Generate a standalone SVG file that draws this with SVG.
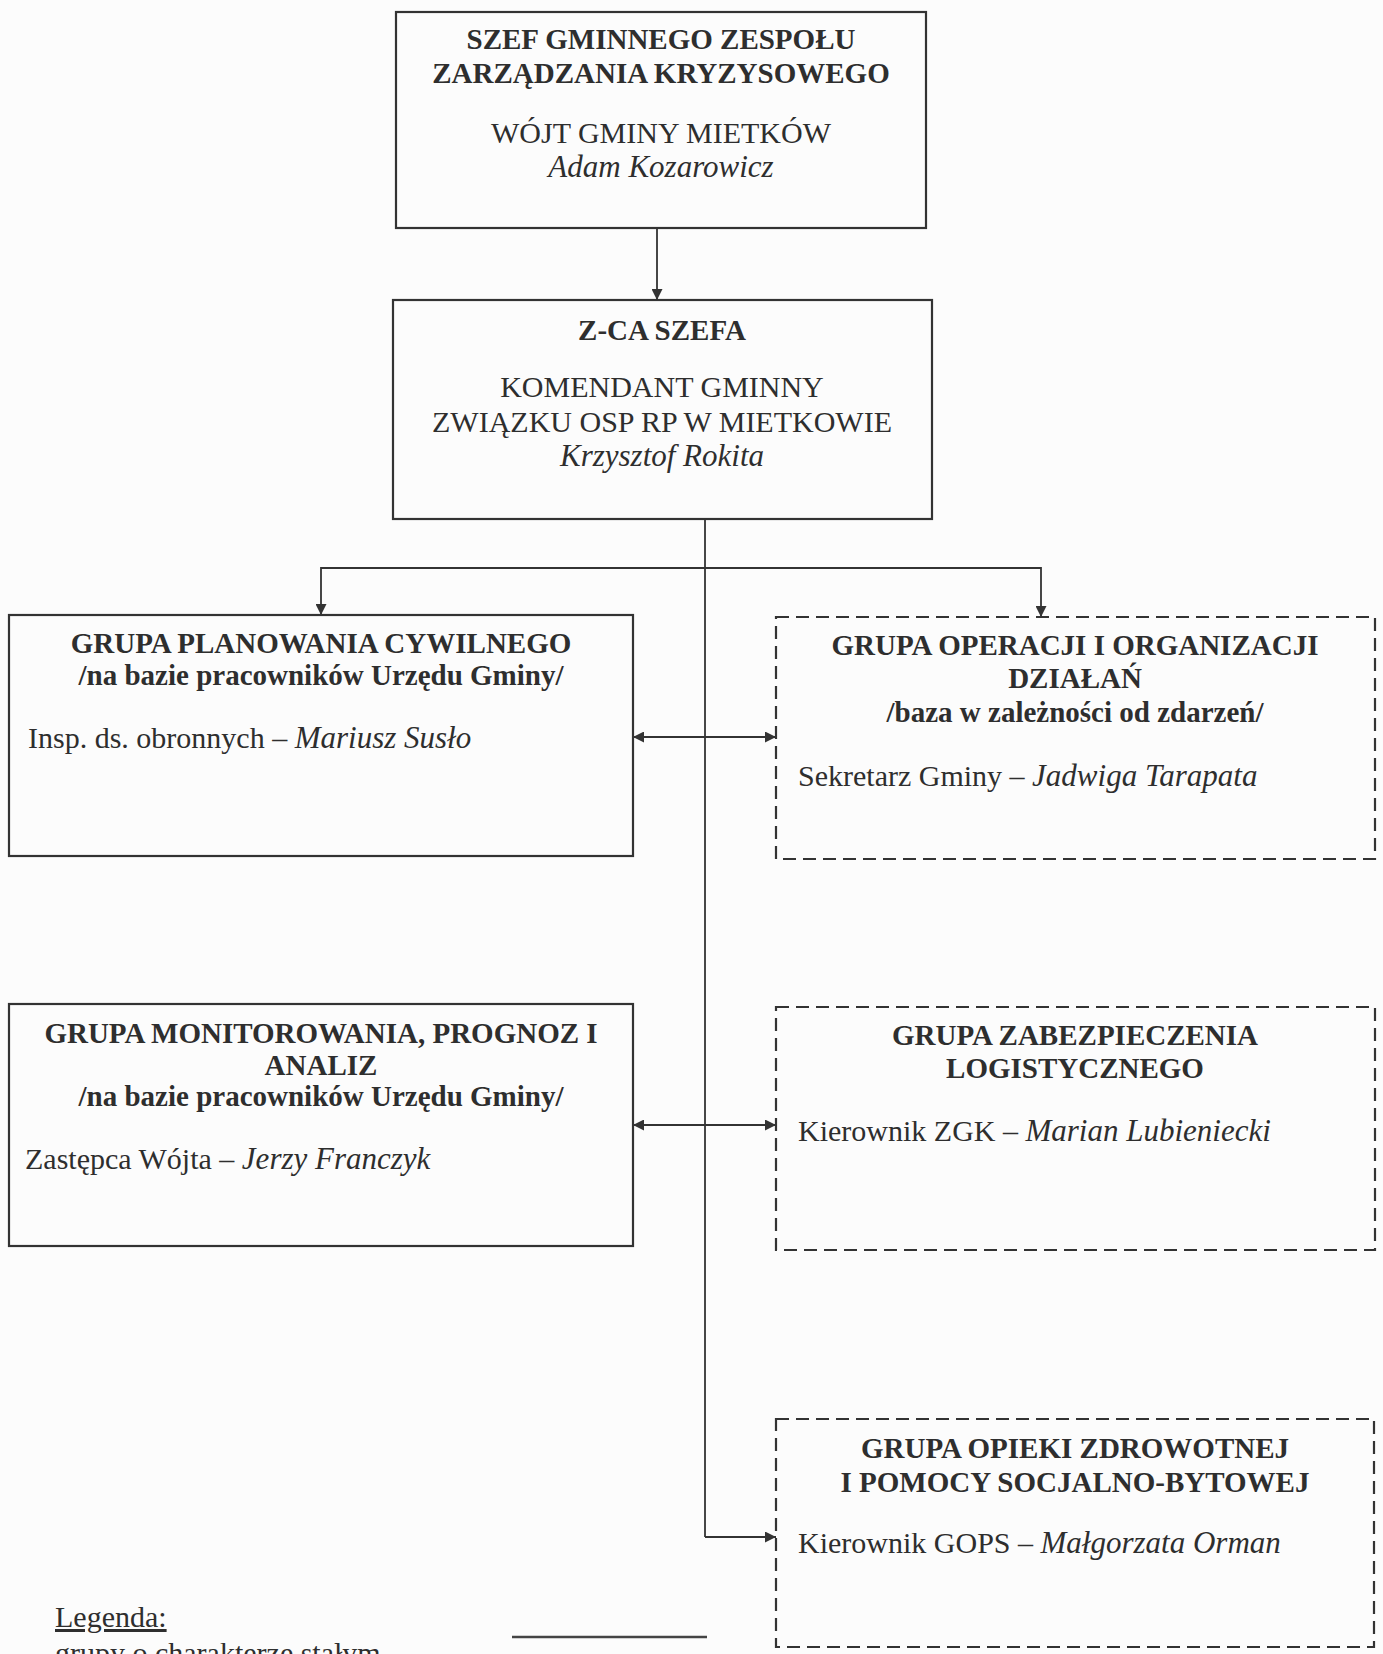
<svg xmlns="http://www.w3.org/2000/svg" width="1383" height="1654" viewBox="0 0 1383 1654">
<style>
text{font-family:"Liberation Serif","Times New Roman",serif;font-size:30px;fill:#2e2e2e}
.b{font-weight:bold;font-size:29px}
.c{text-anchor:middle}
.i{font-style:italic;font-size:31px}
.box{fill:none;stroke:#333;stroke-width:2.2}
.dash{fill:none;stroke:#333;stroke-width:2.2;stroke-dasharray:13 7}
.con{fill:none;stroke:#333;stroke-width:1.8}
</style>
<defs>
<marker id="a" viewBox="0 0 10 10" refX="10" refY="5" markerWidth="13" markerHeight="11" markerUnits="userSpaceOnUse" orient="auto-start-reverse">
<path d="M0,0 L10,5 L0,10 Z" fill="#333"/>
</marker>
</defs>
<rect width="1383" height="1654" fill="#fcfcfc"/>

<g id="connectors">
<line class="con" x1="657" y1="228" x2="657" y2="300" marker-end="url(#a)"/>
<line class="con" x1="705" y1="519" x2="705" y2="1537"/>
<line class="con" x1="705" y1="1537" x2="776" y2="1537" marker-end="url(#a)"/>
<polyline class="con" points="321,615 321,568 1041,568 1041,617" marker-start="url(#a)" marker-end="url(#a)"/>
<line class="con" x1="633" y1="737" x2="776" y2="737" marker-start="url(#a)" marker-end="url(#a)"/>
<line class="con" x1="633" y1="1125" x2="776" y2="1125" marker-start="url(#a)" marker-end="url(#a)"/>
</g>

<g id="szef">
<rect class="box" x="396" y="12" width="530" height="216"/>
<text class="b c" x="661" y="49">SZEF GMINNEGO ZESPOŁU</text>
<text class="b c" x="661" y="83">ZARZĄDZANIA KRYZYSOWEGO</text>
<text class="c" x="661" y="143">WÓJT GMINY MIETKÓW</text>
<text class="i c" x="661" y="177">Adam Kozarowicz</text>
</g>

<g id="zastepca">
<rect class="box" x="393" y="300" width="539" height="219"/>
<text class="b c" x="662" y="340">Z-CA SZEFA</text>
<text class="c" x="662" y="397">KOMENDANT GMINNY</text>
<text class="c" x="662" y="432">ZWIĄZKU OSP RP W MIETKOWIE</text>
<text class="i c" x="662" y="466">Krzysztof Rokita</text>
</g>

<g id="planowanie">
<rect class="box" x="9" y="615" width="624" height="241"/>
<text class="b c" x="321" y="653">GRUPA PLANOWANIA CYWILNEGO</text>
<text class="b c" x="321" y="685">/na bazie pracowników Urzędu Gminy/</text>
<text x="28" y="748">Insp. ds. obronnych – <tspan class="i">Mariusz Susło</tspan></text>
</g>

<g id="operacje">
<rect class="dash" x="776" y="617" width="599" height="242"/>
<text class="b c" x="1075" y="655">GRUPA OPERACJI I ORGANIZACJI</text>
<text class="b c" x="1075" y="688">DZIAŁAŃ</text>
<text class="b c" x="1075" y="722">/baza w zależności od zdarzeń/</text>
<text x="798" y="786">Sekretarz Gminy – <tspan class="i">Jadwiga Tarapata</tspan></text>
</g>

<g id="monitorowanie">
<rect class="box" x="9" y="1004" width="624" height="242"/>
<text class="b c" x="321" y="1043">GRUPA MONITOROWANIA, PROGNOZ I</text>
<text class="b c" x="321" y="1075">ANALIZ</text>
<text class="b c" x="321" y="1106">/na bazie pracowników Urzędu Gminy/</text>
<text x="25" y="1169">Zastępca Wójta – <tspan class="i">Jerzy Franczyk</tspan></text>
</g>

<g id="logistyka">
<rect class="dash" x="776" y="1007" width="599" height="243"/>
<text class="b c" x="1075" y="1045">GRUPA ZABEZPIECZENIA</text>
<text class="b c" x="1075" y="1078">LOGISTYCZNEGO</text>
<text x="798" y="1141">Kierownik ZGK – <tspan class="i">Marian Lubieniecki</tspan></text>
</g>

<g id="opieka">
<rect class="dash" x="776" y="1419" width="598" height="228"/>
<text class="b c" x="1075" y="1458">GRUPA OPIEKI ZDROWOTNEJ</text>
<text class="b c" x="1075" y="1492">I POMOCY SOCJALNO-BYTOWEJ</text>
<text x="798" y="1553">Kierownik GOPS – <tspan class="i">Małgorzata Orman</tspan></text>
</g>

<g id="legenda">
<text x="55" y="1627" text-decoration="underline">Legenda:</text>
<text x="55" y="1663">grupy o charakterze stałym</text>
<line x1="512" y1="1637" x2="707" y2="1637" stroke="#444" stroke-width="2.5"/>
</g>
</svg>
